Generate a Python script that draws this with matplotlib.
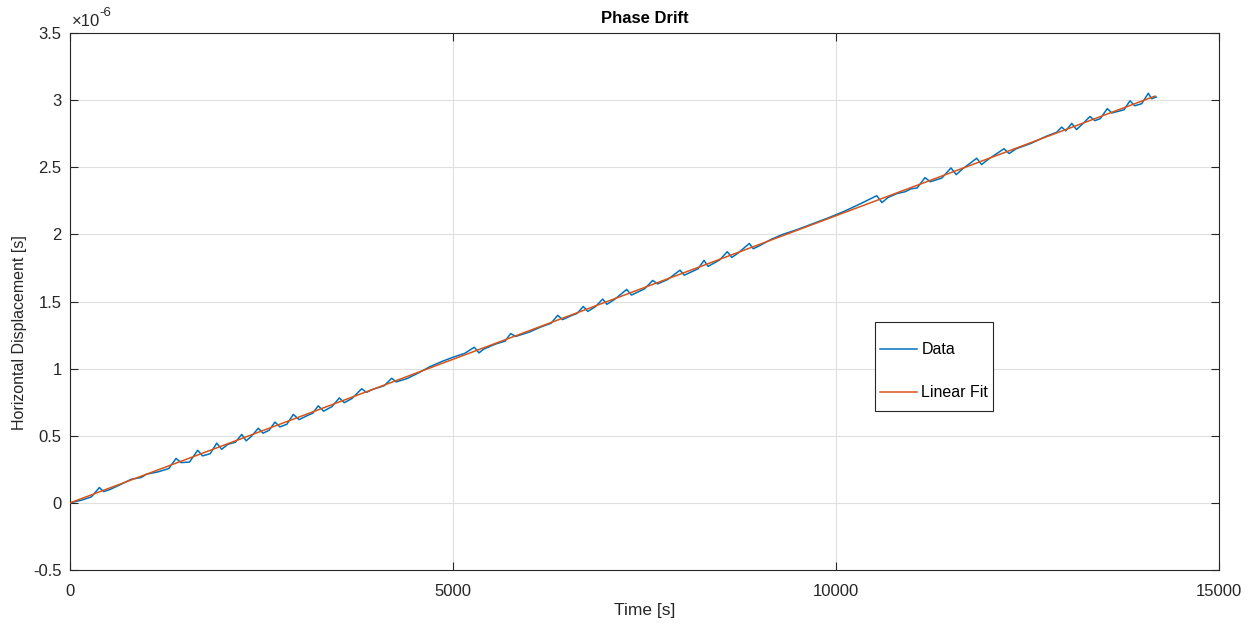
import matplotlib
matplotlib.use("Agg")
import matplotlib.pyplot as plt
from matplotlib.ticker import FuncFormatter
from matplotlib.patches import Rectangle

plt.rcParams['font.family'] = ['Liberation Sans', 'DejaVu Sans']
plt.rcParams['axes.unicode_minus'] = False

# Time [s]
time_s = [0, 150, 280, 383, 440, 520, 650, 800, 930, 1000, 1150, 1290,
          1384, 1450, 1560, 1667, 1730, 1830, 1915, 1980, 2060, 2160,
          2242, 2300, 2370, 2458, 2520, 2600, 2676, 2740, 2830, 2915,
          2990, 3100, 3170, 3241, 3310, 3420, 3516, 3580, 3680, 3808,
          3870, 3950, 4100, 4200, 4260, 4400, 4550, 4700, 4850, 5000,
          5150, 5278, 5340, 5400, 5550, 5680, 5753, 5820, 6000, 6150,
          6280, 6367, 6430, 6550, 6620, 6701, 6760, 6860, 6954, 7010,
          7110, 7268, 7330, 7500, 7607, 7670, 7800, 7963, 8020, 8200,
          8277, 8330, 8480, 8581, 8640, 8720, 8868, 8920, 9000, 9150,
          9300, 9500, 9700, 9900, 10100, 10300, 10450, 10532, 10600,
          10680, 10800, 10900, 10980, 11060, 11162, 11230, 11380, 11501,
          11570, 11650, 11837, 11900, 11990, 12193, 12260, 12350, 12550,
          12750, 12880, 12946, 13000, 13077, 13140, 13220, 13316, 13380,
          13450, 13542, 13600, 13760, 13838, 13900, 13990, 14077, 14120,
          14180]

# Horizontal displacement [x1e-6 s]
displacement = [0.000, 0.020, 0.045, 0.114, 0.084, 0.099, 0.134, 0.176, 0.189,
                0.214, 0.231, 0.256,
                0.331, 0.300, 0.304, 0.392, 0.350, 0.366, 0.445, 0.399, 0.436,
                0.452, 0.510, 0.462, 0.497, 0.556, 0.519, 0.541, 0.602, 0.566,
                0.585, 0.659, 0.620, 0.651, 0.668, 0.723, 0.683, 0.717, 0.782,
                0.746, 0.777, 0.850, 0.823, 0.845, 0.872, 0.928, 0.901, 0.926,
                0.968, 1.015, 1.052, 1.085, 1.113, 1.159, 1.117, 1.145, 1.182,
                1.205, 1.261, 1.240, 1.273, 1.311, 1.338, 1.397, 1.365, 1.396,
                1.411, 1.463, 1.426, 1.462, 1.518, 1.479, 1.516, 1.590, 1.548,
                1.594, 1.657, 1.631, 1.663, 1.733, 1.696, 1.744, 1.806, 1.762,
                1.809, 1.871, 1.828, 1.860, 1.932, 1.893, 1.915, 1.962, 1.999,
                2.037, 2.080, 2.123, 2.170, 2.223, 2.265, 2.288, 2.237, 2.275,
                2.305, 2.317, 2.339, 2.346, 2.423, 2.392, 2.419, 2.495, 2.445,
                2.487, 2.567, 2.520, 2.560, 2.638, 2.602, 2.637, 2.679, 2.732,
                2.760, 2.799, 2.771, 2.827, 2.781, 2.823, 2.878, 2.847, 2.862,
                2.937, 2.904, 2.928, 2.995, 2.958, 2.973, 3.051, 3.010, 3.023]

fit_time = [0, 14165]
fit_disp = [0.000, 3.030]

x_ticks = [0, 5000, 10000, 15000]
y_ticks = [-0.5, 0, 0.5, 1, 1.5, 2, 2.5, 3, 3.5]

W, H = 1257, 624
fig = plt.figure(figsize=(W / 100, H / 100), dpi=100)
ax = fig.add_axes([70 / W, 1 - 570 / H, (1219 - 70) / W, (570 - 33) / H])

blue = '#0072BD'
orange = '#D95319'
axcol = '#262626'

ax.plot(time_s, displacement, color=blue, lw=1.1, label='Data', zorder=3)
ax.plot(fit_time, fit_disp, color=orange, lw=1.1, label='Linear Fit', zorder=4)

ax.set_xlim(0, 15000)
ax.set_ylim(-0.5, 3.5)
ax.set_xticks(x_ticks)
ax.set_yticks(y_ticks)
ax.xaxis.set_major_formatter(FuncFormatter(lambda v, p: '%g' % v))
ax.yaxis.set_major_formatter(FuncFormatter(lambda v, p: '%g' % v))

ax.grid(True, color='#dfdfdf', lw=0.8, zorder=0)
ax.set_axisbelow(True)
ax.tick_params(direction='in', length=6, width=0.8, colors=axcol,
               top=True, right=True, labelsize=12, pad=6)
ax.tick_params(axis='x', pad=10)
for s in ax.spines.values():
    s.set_color(axcol)
    s.set_linewidth(0.8)

ax.set_xlabel('Time [s]', fontsize=12.5, color=axcol, labelpad=3)
ax.set_ylabel('Horizontal Displacement [s]', fontsize=11.5, color=axcol)
ax.yaxis.set_label_coords(-0.037, 0.442)
ax.set_title('Phase Drift', fontsize=12, fontweight='bold', color='black', pad=7)

ax.annotate('\u00d710', xy=(0, 1), xycoords='axes fraction', xytext=(1, 3),
            textcoords='offset points', ha='left', va='bottom',
            fontsize=12, color=axcol)
ax.annotate('-6', xy=(0, 1), xycoords='axes fraction', xytext=(21, 10),
            textcoords='offset points', ha='left', va='bottom',
            fontsize=9.5, color=axcol)

# legend frame (white box with dark edge)
ax.add_patch(Rectangle((0.7006, 0.2961), 0.1027, 0.1657, transform=ax.transAxes,
                       facecolor='white', edgecolor=axcol, lw=0.8, zorder=5))
leg = ax.legend(loc='upper left', bbox_to_anchor=(0.7006, 0.434),
                frameon=False, fontsize=11.5, handlelength=2.3,
                handletextpad=0.28, labelspacing=1.75, borderpad=0.33,
                borderaxespad=0)
leg.set_zorder(6)

fig.savefig('out.png', dpi=100)
